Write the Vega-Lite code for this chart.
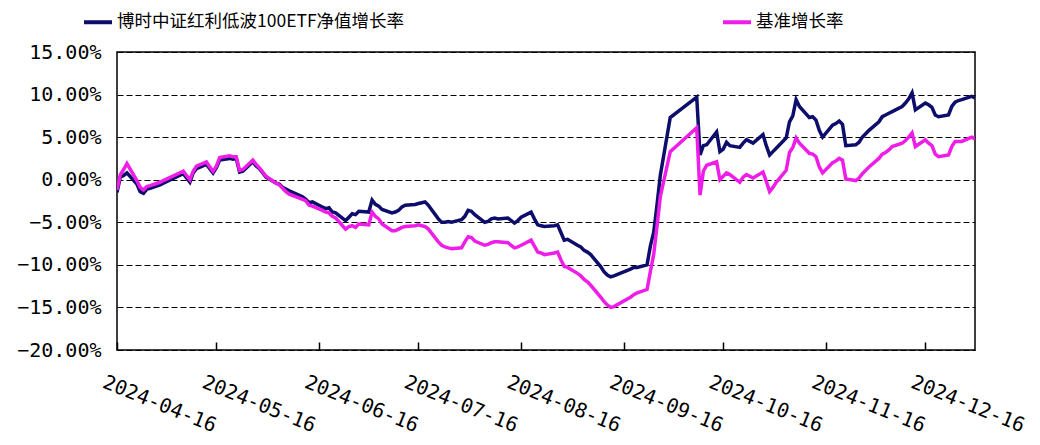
{
  "$schema": "https://vega.github.io/schema/vega-lite/v6.json",
  "width": 858,
  "height": 298,
  "autosize": "none",
  "padding": {"left": 117, "top": 52, "right": 65, "bottom": 95},
  "background": "white",
  "config": {
    "view": {"stroke": "black", "strokeWidth": 1.5},
    "axis": {"labelColor": "black", "labelFont": "DejaVu Sans Mono", "labelFontSize": 20}
  },
  "data": {
    "values": [
      {"d":"2024-04-16","f":-1.5,"b":-1.2},
      {"d":"2024-04-17","f":0.3,"b":0.6},
      {"d":"2024-04-18","f":0.5,"b":1.2},
      {"d":"2024-04-19","f":0.8,"b":1.9},
      {"d":"2024-04-22","f":-0.5,"b":-0.1},
      {"d":"2024-04-23","f":-1.4,"b":-0.9},
      {"d":"2024-04-24","f":-1.6,"b":-1.2},
      {"d":"2024-04-25","f":-1.1,"b":-0.8},
      {"d":"2024-04-26","f":-1.0,"b":-0.7},
      {"d":"2024-04-29","f":-0.6,"b":-0.3},
      {"d":"2024-04-30","f":-0.4,"b":-0.1},
      {"d":"2024-05-06","f":0.7,"b":1.0},
      {"d":"2024-05-07","f":0.2,"b":0.5},
      {"d":"2024-05-08","f":-0.3,"b":0.0},
      {"d":"2024-05-09","f":0.8,"b":1.0},
      {"d":"2024-05-10","f":1.3,"b":1.6},
      {"d":"2024-05-13","f":1.8,"b":2.1},
      {"d":"2024-05-14","f":1.3,"b":1.5},
      {"d":"2024-05-15","f":0.8,"b":1.0},
      {"d":"2024-05-16","f":1.4,"b":1.6},
      {"d":"2024-05-17","f":2.3,"b":2.6},
      {"d":"2024-05-20","f":2.5,"b":2.8},
      {"d":"2024-05-21","f":2.4,"b":2.7},
      {"d":"2024-05-22","f":2.5,"b":2.7},
      {"d":"2024-05-23","f":0.9,"b":1.1},
      {"d":"2024-05-24","f":1.0,"b":1.2},
      {"d":"2024-05-27","f":2.1,"b":2.3},
      {"d":"2024-05-28","f":1.6,"b":1.8},
      {"d":"2024-05-29","f":1.3,"b":1.4},
      {"d":"2024-05-30","f":0.8,"b":0.9},
      {"d":"2024-05-31","f":0.3,"b":0.4},
      {"d":"2024-06-03","f":-0.4,"b":-0.4},
      {"d":"2024-06-04","f":-0.5,"b":-0.6},
      {"d":"2024-06-05","f":-0.9,"b":-1.0},
      {"d":"2024-06-06","f":-1.1,"b":-1.4},
      {"d":"2024-06-07","f":-1.3,"b":-1.7},
      {"d":"2024-06-11","f":-2.0,"b":-2.3},
      {"d":"2024-06-12","f":-2.3,"b":-2.5},
      {"d":"2024-06-13","f":-2.7,"b":-3.0},
      {"d":"2024-06-14","f":-2.6,"b":-3.1},
      {"d":"2024-06-17","f":-3.2,"b":-3.6},
      {"d":"2024-06-18","f":-3.4,"b":-3.8},
      {"d":"2024-06-19","f":-3.3,"b":-3.9},
      {"d":"2024-06-20","f":-3.8,"b":-4.3},
      {"d":"2024-06-21","f":-3.9,"b":-4.5},
      {"d":"2024-06-24","f":-4.8,"b":-5.8},
      {"d":"2024-06-25","f":-4.4,"b":-5.5},
      {"d":"2024-06-26","f":-4.0,"b":-5.4},
      {"d":"2024-06-27","f":-4.1,"b":-5.6},
      {"d":"2024-06-28","f":-3.7,"b":-5.2},
      {"d":"2024-07-01","f":-3.8,"b":-5.3},
      {"d":"2024-07-02","f":-2.4,"b":-3.8},
      {"d":"2024-07-03","f":-2.9,"b":-4.3},
      {"d":"2024-07-04","f":-3.1,"b":-4.6},
      {"d":"2024-07-05","f":-3.5,"b":-5.2},
      {"d":"2024-07-08","f":-3.9,"b":-6.0},
      {"d":"2024-07-09","f":-3.8,"b":-6.0},
      {"d":"2024-07-10","f":-3.6,"b":-5.8},
      {"d":"2024-07-11","f":-3.2,"b":-5.6},
      {"d":"2024-07-12","f":-3.0,"b":-5.5},
      {"d":"2024-07-15","f":-2.9,"b":-5.4},
      {"d":"2024-07-16","f":-2.8,"b":-5.3},
      {"d":"2024-07-17","f":-2.7,"b":-5.4},
      {"d":"2024-07-18","f":-2.6,"b":-5.5},
      {"d":"2024-07-19","f":-3.0,"b":-5.8},
      {"d":"2024-07-22","f":-4.6,"b":-7.3},
      {"d":"2024-07-23","f":-5.0,"b":-7.7},
      {"d":"2024-07-24","f":-5.0,"b":-7.9},
      {"d":"2024-07-25","f":-4.9,"b":-8.0},
      {"d":"2024-07-26","f":-5.0,"b":-8.1},
      {"d":"2024-07-29","f":-4.7,"b":-8.0},
      {"d":"2024-07-30","f":-4.3,"b":-7.3},
      {"d":"2024-07-31","f":-3.6,"b":-6.7},
      {"d":"2024-08-01","f":-3.7,"b":-6.8},
      {"d":"2024-08-02","f":-4.1,"b":-7.2},
      {"d":"2024-08-05","f":-5.0,"b":-7.7},
      {"d":"2024-08-06","f":-4.9,"b":-7.6},
      {"d":"2024-08-07","f":-4.6,"b":-7.4},
      {"d":"2024-08-08","f":-4.5,"b":-7.3},
      {"d":"2024-08-09","f":-4.6,"b":-7.3},
      {"d":"2024-08-12","f":-4.5,"b":-7.4},
      {"d":"2024-08-13","f":-4.8,"b":-7.7},
      {"d":"2024-08-14","f":-5.1,"b":-8.0},
      {"d":"2024-08-15","f":-4.8,"b":-7.9},
      {"d":"2024-08-16","f":-4.4,"b":-7.7},
      {"d":"2024-08-19","f":-3.8,"b":-7.1},
      {"d":"2024-08-20","f":-4.6,"b":-7.8},
      {"d":"2024-08-21","f":-5.3,"b":-8.5},
      {"d":"2024-08-22","f":-5.4,"b":-8.6},
      {"d":"2024-08-23","f":-5.5,"b":-8.8},
      {"d":"2024-08-26","f":-5.4,"b":-8.6},
      {"d":"2024-08-27","f":-5.3,"b":-8.5},
      {"d":"2024-08-28","f":-6.2,"b":-9.4},
      {"d":"2024-08-29","f":-7.1,"b":-10.2},
      {"d":"2024-08-30","f":-7.0,"b":-10.3},
      {"d":"2024-09-02","f":-7.7,"b":-11.0},
      {"d":"2024-09-03","f":-7.9,"b":-11.3},
      {"d":"2024-09-04","f":-8.3,"b":-11.7},
      {"d":"2024-09-05","f":-8.5,"b":-12.0},
      {"d":"2024-09-06","f":-8.8,"b":-12.4},
      {"d":"2024-09-09","f":-10.2,"b":-13.8},
      {"d":"2024-09-10","f":-10.8,"b":-14.3},
      {"d":"2024-09-11","f":-11.2,"b":-14.7},
      {"d":"2024-09-12","f":-11.4,"b":-15.0},
      {"d":"2024-09-13","f":-11.3,"b":-14.9},
      {"d":"2024-09-18","f":-10.5,"b":-13.8},
      {"d":"2024-09-19","f":-10.3,"b":-13.5},
      {"d":"2024-09-20","f":-10.3,"b":-13.3},
      {"d":"2024-09-23","f":-10.0,"b":-12.9},
      {"d":"2024-09-24","f":-7.8,"b":-10.8},
      {"d":"2024-09-25","f":-6.2,"b":-8.8},
      {"d":"2024-09-26","f":-3.0,"b":-5.5},
      {"d":"2024-09-27","f":0.5,"b":-2.0},
      {"d":"2024-09-30","f":7.3,"b":3.3},
      {"d":"2024-10-08","f":9.7,"b":6.1},
      {"d":"2024-10-09","f":2.9,"b":-1.8},
      {"d":"2024-10-10","f":4.0,"b":1.0},
      {"d":"2024-10-11","f":4.1,"b":1.7},
      {"d":"2024-10-14","f":5.6,"b":2.1},
      {"d":"2024-10-15","f":3.3,"b":0.0},
      {"d":"2024-10-16","f":3.6,"b":0.4},
      {"d":"2024-10-17","f":4.4,"b":0.8},
      {"d":"2024-10-18","f":4.0,"b":0.6},
      {"d":"2024-10-21","f":3.8,"b":-0.3},
      {"d":"2024-10-22","f":4.3,"b":0.3},
      {"d":"2024-10-23","f":4.7,"b":0.6},
      {"d":"2024-10-24","f":4.5,"b":0.4},
      {"d":"2024-10-25","f":4.3,"b":0.2},
      {"d":"2024-10-28","f":5.3,"b":0.9},
      {"d":"2024-10-29","f":4.0,"b":-0.2},
      {"d":"2024-10-30","f":2.9,"b":-1.4},
      {"d":"2024-10-31","f":3.3,"b":-0.9},
      {"d":"2024-11-01","f":3.7,"b":-0.3},
      {"d":"2024-11-04","f":4.9,"b":1.1},
      {"d":"2024-11-05","f":6.8,"b":3.2},
      {"d":"2024-11-06","f":7.5,"b":3.8},
      {"d":"2024-11-07","f":9.4,"b":4.9},
      {"d":"2024-11-08","f":8.6,"b":4.3},
      {"d":"2024-11-11","f":7.3,"b":3.1},
      {"d":"2024-11-12","f":7.4,"b":3.0},
      {"d":"2024-11-13","f":7.0,"b":2.7},
      {"d":"2024-11-14","f":5.8,"b":1.5},
      {"d":"2024-11-15","f":5.0,"b":0.8},
      {"d":"2024-11-18","f":6.4,"b":2.0},
      {"d":"2024-11-19","f":6.6,"b":2.2},
      {"d":"2024-11-20","f":6.9,"b":2.5},
      {"d":"2024-11-21","f":6.5,"b":2.3},
      {"d":"2024-11-22","f":4.0,"b":0.1},
      {"d":"2024-11-25","f":4.1,"b":-0.1},
      {"d":"2024-11-26","f":4.4,"b":0.2},
      {"d":"2024-11-27","f":5.0,"b":0.7},
      {"d":"2024-11-28","f":5.4,"b":1.1},
      {"d":"2024-11-29","f":5.8,"b":1.5},
      {"d":"2024-12-02","f":6.8,"b":2.5},
      {"d":"2024-12-03","f":7.4,"b":3.0},
      {"d":"2024-12-04","f":7.6,"b":3.2},
      {"d":"2024-12-05","f":7.8,"b":3.5},
      {"d":"2024-12-06","f":8.0,"b":3.9},
      {"d":"2024-12-09","f":8.6,"b":4.3},
      {"d":"2024-12-10","f":9.0,"b":4.6},
      {"d":"2024-12-11","f":9.5,"b":5.0},
      {"d":"2024-12-12","f":10.2,"b":5.5},
      {"d":"2024-12-13","f":8.2,"b":3.9},
      {"d":"2024-12-16","f":9.0,"b":4.7},
      {"d":"2024-12-17","f":8.8,"b":4.3},
      {"d":"2024-12-18","f":8.5,"b":4.0},
      {"d":"2024-12-19","f":7.6,"b":3.0},
      {"d":"2024-12-20","f":7.4,"b":2.7},
      {"d":"2024-12-23","f":7.6,"b":2.9},
      {"d":"2024-12-24","f":8.6,"b":3.9},
      {"d":"2024-12-25","f":9.1,"b":4.5},
      {"d":"2024-12-26","f":9.3,"b":4.5},
      {"d":"2024-12-27","f":9.4,"b":4.5},
      {"d":"2024-12-30","f":9.8,"b":5.0},
      {"d":"2024-12-31","f":9.6,"b":4.8}
    ]
  },
  "transform": [{"fold": ["f", "b"], "as": ["series", "value"]}],
  "mark": {"type": "line", "strokeWidth": 3.5, "clip": true},
  "encoding": {
    "x": {
      "field": "d",
      "type": "temporal",
      "scale": {
        "type": "utc",
        "domain": [
          {"year": 2024, "month": 4, "date": 16, "utc": true},
          {"year": 2024, "month": 12, "date": 31, "utc": true}
        ],
        "nice": false
      },
      "axis": {
        "title": null,
        "values": [
          {"year": 2024, "month": 4, "date": 16, "utc": true},
          {"year": 2024, "month": 5, "date": 16, "utc": true},
          {"year": 2024, "month": 6, "date": 16, "utc": true},
          {"year": 2024, "month": 7, "date": 16, "utc": true},
          {"year": 2024, "month": 8, "date": 16, "utc": true},
          {"year": 2024, "month": 9, "date": 16, "utc": true},
          {"year": 2024, "month": 10, "date": 16, "utc": true},
          {"year": 2024, "month": 11, "date": 16, "utc": true},
          {"year": 2024, "month": 12, "date": 16, "utc": true}
        ],
        "labelExpr": "utcFormat(datum.value, '%Y-%m-%d')",
        "labelAngle": 22,
        "labelAlign": "left",
        "labelBaseline": "top",
        "labelPadding": 30,
        "labelBound": false,
        "labelOverlap": false,
        "labelFlush": false,
        "labelOffset": -10,
        "grid": false,
        "domain": false,
        "tickSize": -8,
        "tickColor": "black",
        "tickWidth": 1.5
      }
    },
    "y": {
      "field": "value",
      "type": "quantitative",
      "scale": {"domain": [-20, 15], "nice": false, "zero": false},
      "axis": {
        "title": null,
        "values": [-20, -15, -10, -5, 0, 5, 10, 15],
        "labelExpr": "format(datum.value, '.2f') + '%'",
        "ticks": false,
        "domain": false,
        "labelPadding": 16,
        "grid": true,
        "gridColor": "black",
        "gridDash": [6, 3],
        "gridWidth": 1,
        "gridOpacity": 1
      }
    },
    "color": {
      "field": "series",
      "type": "nominal",
      "scale": {"domain": ["f", "b"], "range": ["#0d0d6b", "#ee1ee8"]},
      "legend": {
        "title": null,
        "orient": "none",
        "legendX": -35,
        "legendY": -46,
        "direction": "horizontal",
        "columnPadding": 310,
        "symbolType": "stroke",
        "symbolSize": 784,
        "symbolStrokeWidth": 4,
        "labelFont": "Noto Sans CJK SC",
        "labelFontSize": 17.5,
        "labelColor": "black",
        "labelLimit": 600,
        "labelOffset": 3,
        "labelExpr": "datum.value == 'f' ? '博时中证红利低波100ETF净值增长率' : '基准增长率'"
      }
    }
  }
}
